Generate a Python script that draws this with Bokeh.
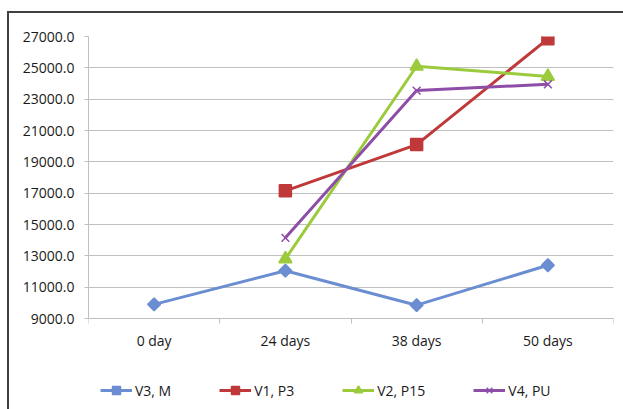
import math

from bokeh.embed import file_html
from bokeh.models import (ColumnDataSource, FixedTicker, Legend, LegendItem,
                          NumeralTickFormatter, Range1d)
from bokeh.plotting import figure
from bokeh.resources import INLINE

# Sampling days (categories) and measured values per variant
days = ["0 day", "24 days", "38 days", "50 days"]
v3_m = [9900, 12050, 9850, 12400]
v1_p3 = [math.nan, 17150, 20100, 26850]
v2_p15 = [math.nan, 12800, 25100, 24450]
v4_pu = [math.nan, 14150, 23550, 23950]
y_ticks = [9000, 11000, 13000, 15000, 17000, 19000, 21000, 23000, 25000, 27000]
Y_MIN, Y_MAX = 9000, 27000

FONT = "Open Sans"
FONT_SIZE = "14px"
TEXT = "#1a1a1a"
GRID = "#bfbfbf"

# The value axis occupies the top 282 px of a taller frame; the strip below
# it holds the day labels and the legend.
AXIS_PX, FRAME_PX = 282, 373
y_start = Y_MAX - (Y_MAX - Y_MIN) * FRAME_PX / AXIS_PX

# categories sit in the middle of unit-wide slots on a numeric axis
xs = [i + 0.5 for i in range(len(days))]

p = figure(frame_width=525, frame_height=FRAME_PX, output_backend="svg",
           toolbar_location=None,
           x_range=Range1d(0, len(days)), y_range=Range1d(y_start, Y_MAX),
           min_border_left=79, min_border_right=10, min_border_top=23,
           min_border_bottom=0)
p.styles = {"margin-left": "7px", "margin-top": "11px",
            "border-left": "2px solid #404040", "border-top": "2px solid #404040"}
p.outline_line_color = None
p.background_fill_color = "white"
p.border_fill_color = "white"

# y axis
p.yaxis.ticker = FixedTicker(ticks=y_ticks)
p.yaxis.formatter = NumeralTickFormatter(format="0.0")
p.yaxis.bounds = (Y_MIN, Y_MAX)
p.yaxis.axis_line_color = GRID
p.yaxis.major_tick_line_color = GRID
p.yaxis.major_tick_out = 4
p.yaxis.major_tick_in = 0
p.yaxis.minor_tick_line_color = None
p.yaxis.major_label_standoff = 10
p.ygrid.ticker = FixedTicker(ticks=y_ticks)
p.ygrid.grid_line_color = GRID

# x axis at the bottom of the value range: labels at slot centres,
# tick marks on slot boundaries
p.xaxis.fixed_location = Y_MIN
p.xaxis.ticker = FixedTicker(ticks=xs, minor_ticks=list(range(len(days) + 1)))
p.xaxis.major_label_overrides = {x: d for x, d in zip(xs, days)}
p.xaxis.major_tick_line_color = None
p.xaxis.minor_tick_line_color = GRID
p.xaxis.minor_tick_out = 5
p.xaxis.minor_tick_in = 0
p.xaxis.axis_line_color = GRID
p.xaxis.major_label_standoff = 6
p.xgrid.grid_line_color = None

for ax in (p.xaxis, p.yaxis):
    ax.major_label_text_font = FONT
    ax.major_label_text_font_size = FONT_SIZE
    ax.major_label_text_color = TEXT

series = [
    ("V3, M", v3_m, "#6b8dd1", "square", 9, math.pi / 4),
    ("V1, P3", v1_p3, "#c0393a", "square", 12, 0),
    ("V2, P15", v2_p15, "#9bcb3c", "triangle", 13, 0),
    ("V4, PU", v4_pu, "#8e4ea8", "x", 11, 0),
]

items = []
for name, vals, color, marker, size, angle in series:
    src = ColumnDataSource(dict(x=xs, y=vals))
    ln = p.line("x", "y", source=src, line_color=color, line_width=3,
                line_join="round")
    sc = p.scatter("x", "y", source=src, marker=marker, size=size, angle=angle,
                   fill_color=color, line_color=color, line_width=1.5)
    items.append(LegendItem(label=name, renderers=[ln, sc]))

legend = Legend(items=items, orientation="horizontal", location=(12, 9),
                spacing=48, glyph_width=32, glyph_height=20, label_height=20,
                label_standoff=3, padding=0, margin=0,
                border_line_color=None, background_fill_alpha=0,
                label_text_font=FONT, label_text_font_size=FONT_SIZE,
                label_text_color=TEXT)
p.add_layout(legend, "center")

open("out.html", "w").write(file_html(p, INLINE))
